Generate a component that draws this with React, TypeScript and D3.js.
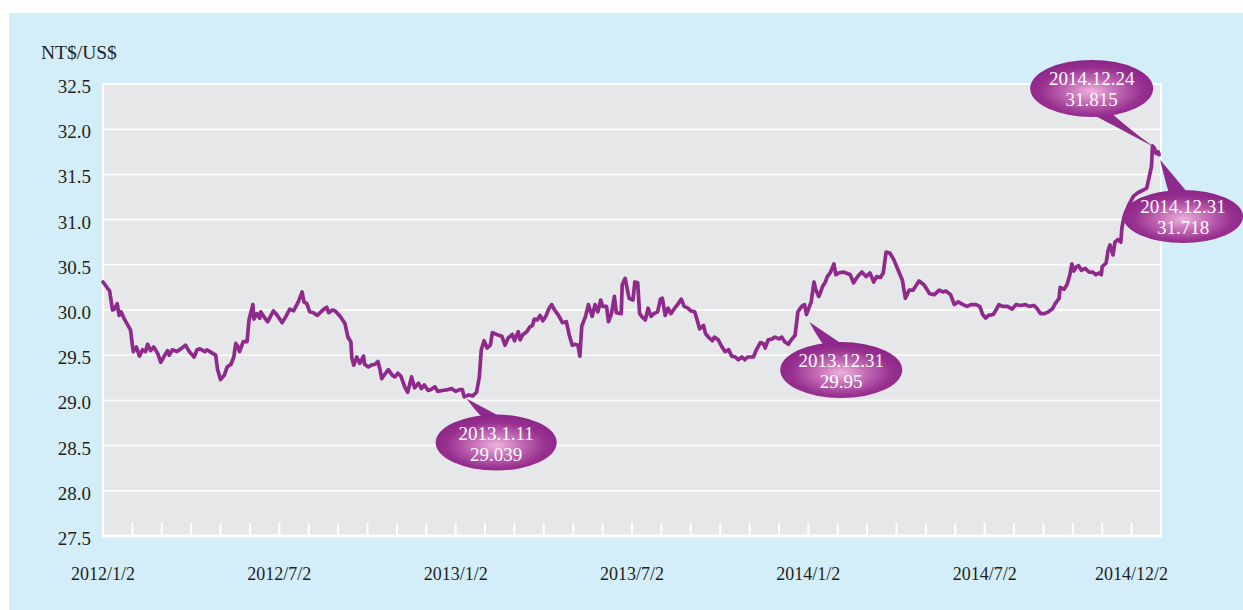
import * as d3 from 'd3';

// NT$ per US$
const usdTwd: [string, number][] = [
  ['2012-01-02', 30.31], ['2012-01-09', 30.21], ['2012-01-12', 30.0], ['2012-01-14', 30.01], ['2012-01-17', 30.07], ['2012-01-19', 29.94], ['2012-01-21', 29.98], ['2012-01-25', 29.89], ['2012-01-31', 29.78],
  ['2012-02-02', 29.61], ['2012-02-03', 29.54], ['2012-02-06', 29.59], ['2012-02-09', 29.49], ['2012-02-12', 29.56], ['2012-02-15', 29.54], ['2012-02-17', 29.62], ['2012-02-20', 29.55], ['2012-02-23', 29.59], ['2012-02-27', 29.52],
  ['2012-03-01', 29.42], ['2012-03-04', 29.48], ['2012-03-08', 29.55], ['2012-03-10', 29.5], ['2012-03-13', 29.56], ['2012-03-18', 29.54], ['2012-03-22', 29.57], ['2012-03-27', 29.61], ['2012-03-31', 29.54],
  ['2012-04-05', 29.48], ['2012-04-08', 29.56], ['2012-04-11', 29.57], ['2012-04-16', 29.54], ['2012-04-18', 29.56], ['2012-04-24', 29.52], ['2012-04-27', 29.5], ['2012-04-29', 29.34],
  ['2012-05-02', 29.23], ['2012-05-06', 29.28], ['2012-05-09', 29.37], ['2012-05-13', 29.4], ['2012-05-16', 29.48], ['2012-05-18', 29.63], ['2012-05-20', 29.6], ['2012-05-22', 29.54], ['2012-05-26', 29.65], ['2012-05-30', 29.65],
  ['2012-06-01', 29.89], ['2012-06-05', 30.06], ['2012-06-06', 29.9], ['2012-06-09', 29.96], ['2012-06-12', 29.91], ['2012-06-13', 29.98], ['2012-06-16', 29.93], ['2012-06-20', 29.87], ['2012-06-23', 29.93], ['2012-06-26', 29.99], ['2012-06-30', 29.94],
  ['2012-07-05', 29.86], ['2012-07-09', 29.93], ['2012-07-13', 30.01], ['2012-07-17', 29.99], ['2012-07-22', 30.09], ['2012-07-26', 30.2], ['2012-07-28', 30.09], ['2012-07-31', 30.07],
  ['2012-08-03', 29.98], ['2012-08-07', 29.97], ['2012-08-11', 29.94], ['2012-08-16', 29.99], ['2012-08-18', 30.01], ['2012-08-21', 30.03], ['2012-08-23', 29.97], ['2012-08-27', 30.0], ['2012-08-30', 29.99],
  ['2012-09-04', 29.93], ['2012-09-09', 29.85], ['2012-09-12', 29.7], ['2012-09-15', 29.65], ['2012-09-16', 29.47], ['2012-09-18', 29.39], ['2012-09-21', 29.48], ['2012-09-24', 29.41], ['2012-09-28', 29.49], ['2012-09-29', 29.4],
  ['2012-10-03', 29.37], ['2012-10-06', 29.39], ['2012-10-10', 29.4], ['2012-10-13', 29.43], ['2012-10-15', 29.35], ['2012-10-17', 29.24], ['2012-10-21', 29.3], ['2012-10-24', 29.34], ['2012-10-28', 29.28], ['2012-10-31', 29.26],
  ['2012-11-03', 29.3], ['2012-11-06', 29.27], ['2012-11-10', 29.15], ['2012-11-13', 29.09], ['2012-11-17', 29.26], ['2012-11-20', 29.14], ['2012-11-24', 29.19], ['2012-11-27', 29.13], ['2012-11-30', 29.17],
  ['2012-12-04', 29.11], ['2012-12-07', 29.12], ['2012-12-11', 29.15], ['2012-12-14', 29.1], ['2012-12-19', 29.11], ['2012-12-25', 29.12], ['2012-12-29', 29.13],
  ['2013-01-02', 29.1], ['2013-01-06', 29.12], ['2013-01-09', 29.12], ['2013-01-11', 29.039], ['2013-01-16', 29.06], ['2013-01-20', 29.05], ['2013-01-24', 29.09], ['2013-01-27', 29.26], ['2013-01-29', 29.56],
  ['2013-02-01', 29.66], ['2013-02-04', 29.58], ['2013-02-07', 29.61], ['2013-02-09', 29.75], ['2013-02-13', 29.73], ['2013-02-18', 29.71], ['2013-02-21', 29.61], ['2013-02-24', 29.69], ['2013-02-28', 29.73],
  ['2013-03-02', 29.66], ['2013-03-06', 29.76], ['2013-03-08', 29.67], ['2013-03-11', 29.73], ['2013-03-15', 29.76], ['2013-03-18', 29.81], ['2013-03-21', 29.83], ['2013-03-23', 29.9], ['2013-03-26', 29.89], ['2013-03-29', 29.94],
  ['2013-04-01', 29.88], ['2013-04-04', 29.93], ['2013-04-07', 30.01], ['2013-04-10', 30.06], ['2013-04-13', 30.0], ['2013-04-17', 29.94], ['2013-04-21', 29.86], ['2013-04-25', 29.87], ['2013-04-28', 29.72],
  ['2013-05-01', 29.61], ['2013-05-04', 29.62], ['2013-05-07', 29.61], ['2013-05-09', 29.49], ['2013-05-11', 29.82], ['2013-05-15', 29.93], ['2013-05-18', 30.06], ['2013-05-22', 29.93], ['2013-05-25', 30.06], ['2013-05-28', 29.98], ['2013-05-31', 30.11],
  ['2013-06-02', 30.04], ['2013-06-06', 30.04], ['2013-06-08', 29.87], ['2013-06-11', 29.96], ['2013-06-14', 30.15], ['2013-06-16', 29.97], ['2013-06-21', 29.96], ['2013-06-22', 30.28], ['2013-06-25', 30.35], ['2013-06-29', 30.13],
  ['2013-07-03', 30.11], ['2013-07-05', 30.31], ['2013-07-08', 30.3], ['2013-07-10', 29.96], ['2013-07-13', 29.92], ['2013-07-16', 29.89], ['2013-07-19', 30.02], ['2013-07-22', 29.93], ['2013-07-25', 29.96], ['2013-07-29', 29.98],
  ['2013-08-01', 30.12], ['2013-08-03', 30.13], ['2013-08-06', 29.94], ['2013-08-09', 30.02], ['2013-08-12', 29.96], ['2013-08-16', 30.02], ['2013-08-19', 30.06], ['2013-08-23', 30.12], ['2013-08-26', 30.04], ['2013-08-30', 30.02],
  ['2013-09-02', 29.99], ['2013-09-06', 29.98], ['2013-09-09', 29.87], ['2013-09-11', 29.79], ['2013-09-15', 29.83], ['2013-09-17', 29.74], ['2013-09-20', 29.7], ['2013-09-24', 29.66], ['2013-09-26', 29.7], ['2013-09-30', 29.67],
  ['2013-10-04', 29.59], ['2013-10-07', 29.54], ['2013-10-11', 29.56], ['2013-10-14', 29.49], ['2013-10-18', 29.48], ['2013-10-21', 29.45], ['2013-10-25', 29.48], ['2013-10-28', 29.45], ['2013-10-31', 29.48],
  ['2013-11-06', 29.48], ['2013-11-09', 29.56], ['2013-11-13', 29.64], ['2013-11-16', 29.63], ['2013-11-18', 29.58], ['2013-11-21', 29.67], ['2013-11-25', 29.68], ['2013-11-28', 29.7],
  ['2013-12-02', 29.68], ['2013-12-05', 29.7], ['2013-12-08', 29.65], ['2013-12-12', 29.62], ['2013-12-15', 29.67], ['2013-12-19', 29.72], ['2013-12-22', 29.98], ['2013-12-26', 30.04], ['2013-12-29', 30.06], ['2013-12-31', 29.95],
  ['2014-01-05', 30.09], ['2014-01-08', 30.31], ['2014-01-10', 30.22], ['2014-01-13', 30.15], ['2014-01-15', 30.2], ['2014-01-17', 30.26], ['2014-01-20', 30.31], ['2014-01-22', 30.37], ['2014-01-25', 30.41], ['2014-01-29', 30.51], ['2014-01-31', 30.39],
  ['2014-02-03', 30.41], ['2014-02-07', 30.42], ['2014-02-10', 30.41], ['2014-02-14', 30.39], ['2014-02-17', 30.3], ['2014-02-21', 30.37], ['2014-02-25', 30.42],
  ['2014-03-01', 30.37], ['2014-03-05', 30.41], ['2014-03-09', 30.31], ['2014-03-12', 30.37], ['2014-03-16', 30.36], ['2014-03-19', 30.41], ['2014-03-22', 30.64], ['2014-03-26', 30.63], ['2014-03-30', 30.56],
  ['2014-04-03', 30.46], ['2014-04-08', 30.33], ['2014-04-11', 30.13], ['2014-04-15', 30.22], ['2014-04-19', 30.22], ['2014-04-25', 30.32], ['2014-04-30', 30.28],
  ['2014-05-06', 30.18], ['2014-05-11', 30.17], ['2014-05-16', 30.22], ['2014-05-20', 30.2], ['2014-05-23', 30.21], ['2014-05-28', 30.17],
  ['2014-06-01', 30.06], ['2014-06-05', 30.09], ['2014-06-10', 30.06], ['2014-06-14', 30.04], ['2014-06-18', 30.06], ['2014-06-23', 30.06], ['2014-06-27', 30.04], ['2014-06-30', 29.95],
  ['2014-07-03', 29.91], ['2014-07-06', 29.94], ['2014-07-11', 29.95], ['2014-07-14', 30.0], ['2014-07-17', 30.06], ['2014-07-21', 30.04], ['2014-07-26', 30.04], ['2014-07-31', 30.01],
  ['2014-08-04', 30.06], ['2014-08-09', 30.05], ['2014-08-14', 30.06], ['2014-08-18', 30.04], ['2014-08-23', 30.05], ['2014-08-26', 30.02], ['2014-08-30', 29.96],
  ['2014-09-03', 29.96], ['2014-09-07', 29.98], ['2014-09-11', 30.01], ['2014-09-14', 30.07], ['2014-09-18', 30.13], ['2014-09-19', 30.25], ['2014-09-23', 30.23], ['2014-09-26', 30.28], ['2014-09-29', 30.39],
  ['2014-10-01', 30.51], ['2014-10-03', 30.43], ['2014-10-06', 30.48], ['2014-10-08', 30.49], ['2014-10-11', 30.44], ['2014-10-15', 30.46], ['2014-10-19', 30.42], ['2014-10-23', 30.42], ['2014-10-26', 30.39], ['2014-10-30', 30.41],
  ['2014-11-01', 30.39], ['2014-11-02', 30.48], ['2014-11-06', 30.52], ['2014-11-08', 30.66], ['2014-11-10', 30.72], ['2014-11-13', 30.61], ['2014-11-15', 30.75], ['2014-11-18', 30.78], ['2014-11-21', 30.75], ['2014-11-22', 30.9], ['2014-11-24', 31.02], ['2014-11-29', 31.16],
  ['2014-12-04', 31.26], ['2014-12-09', 31.3], ['2014-12-15', 31.33], ['2014-12-18', 31.35], ['2014-12-23', 31.59], ['2014-12-24', 31.815], ['2014-12-26', 31.79], ['2014-12-28', 31.73], ['2014-12-30', 31.75], ['2014-12-31', 31.718],
];

const yTicks = [27.5, 28.0, 28.5, 29.0, 29.5, 30.0, 30.5, 31.0, 31.5, 32.0, 32.5];
const xLabelDates = ['2012-01-02', '2012-07-02', '2013-01-02', '2013-07-02', '2014-01-02', '2014-07-02', '2014-12-02'];
const xLabels = ['2012/1/2', '2012/7/2', '2013/1/2', '2013/7/2', '2014/1/2', '2014/7/2', '2014/12/2'];

const calloutDates = ['2013-01-11', '2013-12-31', '2014-12-24', '2014-12-31'];
const calloutValues = [29.039, 29.95, 31.815, 31.718];
const calloutLabels = ['2013.1.11', '2013.12.31', '2014.12.24', '2014.12.31'];

// bubble placement relative to its point: centre offset, radii, tail angle (deg), tip offset
const calloutLayout = [
  { dx: 32, dy: 45.7, rx: 60.5, ry: 28, t: -94, tip: [2.5, 2] },
  { dx: 34.8, dy: 55.5, rx: 61, ry: 28, t: -98, tip: [3, 7.5] },
  { dx: -60.8, dy: -57.5, rx: 61.5, ry: 28.5, t: 80, tip: [1.5, 1] },
  { dx: 23.9, dy: 61.8, rx: 60, ry: 26.5, t: -95, tip: [1, 5] },
];

const FONT = '"Liberation Serif", "Times New Roman", serif';
const INK = '#231f20';
const LINE = '#8f2a8c';

export default function App() {
  const width = 1243;
  const height = 610;
  const left = 103, right = 1161, top = 84, bottom = 536;

  const parse = d3.timeParse('%Y-%m-%d');
  // monthly ticks on the 2nd, equally spaced as in the original
  const months = d3.range(37).map(i => new Date(2012, i, 2));
  const x = d3.scaleTime()
    .domain(months)
    .range(months.map((_, i) => left + ((right - left) * i) / 36));
  const y = d3.scaleLinear().domain([27.5, 32.5]).range([bottom, top]);

  const data = usdTwd.map(([d, v]) => ({ date: parse(d) as Date, value: v }));
  const line = d3.line<{ date: Date; value: number }>()
    .x(d => x(d.date))
    .y(d => y(d.value));

  return (
    <svg width={width} height={height} style={{ position: 'absolute', left: 0, top: 0, display: 'block' }}>
      <defs>
        <radialGradient id="bubble" cx="50%" cy="55%" r="55%">
          <stop offset="0%" stopColor="#eeb3de" />
          <stop offset="35%" stopColor="#c66fb8" />
          <stop offset="75%" stopColor="#97308f" />
          <stop offset="100%" stopColor="#8c2588" />
        </radialGradient>
      </defs>
      <rect x={0} y={0} width={width} height={height} fill="#ffffff" />
      <rect x={9} y={13} width={width - 9} height={height - 13} fill="#d4eef9" />

      {/* plot area */}
      <rect x={left} y={top} width={right - left} height={bottom - top} fill="#e6e7e8" stroke="#ffffff" strokeWidth={2} />
      {yTicks.slice(1, -1).map(t => (
        <line key={t} x1={left} x2={right} y1={y(t)} y2={y(t)} stroke="#ffffff" strokeWidth={1.5} />
      ))}
      <line x1={left - 1} x2={right + 1} y1={bottom} y2={bottom} stroke="#ffffff" strokeWidth={3} />
      {months.slice(1, -1).map((m, i) => (
        <line key={i} x1={x(m)} x2={x(m)} y1={bottom} y2={bottom - 13} stroke="#ffffff" strokeWidth={2} />
      ))}

      {/* y axis */}
      <text x={41} y={59} fontFamily={FONT} fontSize={19.5} fill={INK}>NT$/US$</text>
      {yTicks.map(t => (
        <text key={t} x={91} y={y(t) + 9} textAnchor="end" fontFamily={FONT} fontSize={19} fill={INK}>
          {t.toFixed(1)}
        </text>
      ))}

      {/* x axis labels */}
      {xLabelDates.map((d, i) => (
        <text key={d} x={x(parse(d) as Date)} y={580} textAnchor="middle" fontFamily={FONT} fontSize={18} fill={INK}>
          {xLabels[i]}
        </text>
      ))}

      <path d={line(data) || ''} fill="none" stroke={LINE} strokeWidth={3.7} strokeLinejoin="round" strokeLinecap="round" />

      {/* callouts */}
      {calloutDates.map((d, i) => {
        const px = x(parse(d) as Date);
        const py = y(calloutValues[i]);
        const L = calloutLayout[i];
        const cx = px + L.dx;
        const cy = py + L.dy;
        const tx = px + L.tip[0];
        const ty = py + L.tip[1];
        const a1 = ((L.t - 10) * Math.PI) / 180;
        const a2 = ((L.t + 10) * Math.PI) / 180;
        const b1 = [cx + L.rx * 0.9 * Math.cos(a1), cy + L.ry * 0.9 * Math.sin(a1)];
        const b2 = [cx + L.rx * 0.9 * Math.cos(a2), cy + L.ry * 0.9 * Math.sin(a2)];
        const tail = `M${b1[0]},${b1[1]} Q${(b1[0] + tx) / 2},${(b1[1] + ty) / 2 + 2} ${tx},${ty} Q${(b2[0] + tx) / 2},${(b2[1] + ty) / 2} ${b2[0]},${b2[1]} Z`;
        return (
          <g key={d}>
            <path d={tail} fill="#8e2a8b" />
            <ellipse cx={cx} cy={cy} rx={L.rx} ry={L.ry} fill="url(#bubble)" />
            <text x={cx} y={cy - 3} textAnchor="middle" fontFamily={FONT} fontSize={19} fill="#ffffff">
              {calloutLabels[i]}
            </text>
            <text x={cx} y={cy + 18} textAnchor="middle" fontFamily={FONT} fontSize={19} fill="#ffffff">
              {String(calloutValues[i])}
            </text>
          </g>
        );
      })}
    </svg>
  );
}
